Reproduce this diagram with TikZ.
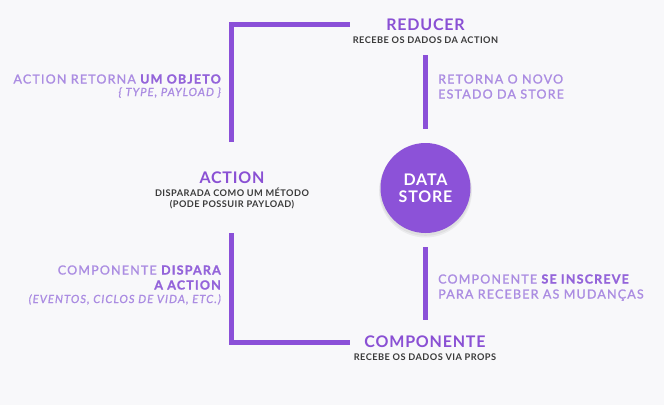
\documentclass[tikz,border=0pt]{standalone}
\usepackage{fontspec}
\setmainfont{Lato}
\newfontfamily\spaced{Lato}[LetterSpace=9.5, FakeBold=1.2]
\newfontfamily\headspaced{Lato}[LetterSpace=5]
\definecolor{barc}{HTML}{8B50D8}
\definecolor{headc}{HTML}{8A50D4}
\definecolor{notec}{HTML}{AB8CE2}
\definecolor{noted}{HTML}{9464DA}
\definecolor{subc}{HTML}{3A3A3A}
\definecolor{bgc}{HTML}{F8F8FA}
\definecolor{storec}{HTML}{8C52D8}
\tikzset{
  bar/.style={line width=5pt, draw=barc, line cap=butt},
  head/.style={inner sep=0pt, anchor=base, text=headc, font=\headspaced\bfseries\fontsize{16}{18}\selectfont},
  subtxt/.style={inner sep=0pt, anchor=base, text=subc, font=\headspaced\bfseries\fontsize{9.2}{11}\selectfont},
  notetxt/.style={inner sep=0pt, text=notec, font=\spaced\fontsize{12.5}{15}\selectfont},
  noteit/.style={inner sep=0pt, text=notec, font=\spaced\itshape\fontsize{11.2}{13}\selectfont},
  storenode/.style={circle, fill=storec, minimum size=90pt, inner sep=0pt},
  storeshadow/.style={fill=black, opacity=0.05},
  storetxt/.style={inner sep=0pt, anchor=base, text=white, font=\headspaced\bfseries\fontsize{16}{18}\selectfont},
}
\newcommand{\dk}[1]{\textcolor{noted}{\bfseries #1}}
\begin{document}
\begin{tikzpicture}[x=1pt,y=-1pt]
\fill[bgc] (0,0) rectangle (664,405);
\useasboundingbox (0,0) rectangle (664,405);

% headings
\node[head] (reducer) at (425.5,30) {REDUCER};
\node[subtxt] (reducersub) at (425.5,43.2) {RECEBE OS DADOS DA ACTION};
\node[head] (action) at (232,183) {ACTION};
\node[subtxt] (actionsub1) at (232,196.5) {DISPARADA COMO UM MÉTODO};
\node[subtxt] (actionsub2) at (232,207.5) {(PODE POSSUIR PAYLOAD)};
\node[head] (component) at (425,347) {COMPONENTE};
\node[subtxt] (componentsub) at (425,360.5) {RECEBE OS DADOS VIA PROPS};

% data store with soft shadow
\fill[storeshadow] (425.5,191) circle (46.5);
\fill[storeshadow] (425.5,190) circle (45.8);
\node[storenode] (store) at (425.5,188) {};
\node[storetxt] (storeA) at (425.5,185) {DATA};
\node[storetxt] (storeB) at (425.5,202) {STORE};

% bars
\coordinate (abTop) at (231.5,142);
\coordinate (rdLeft) at (350,24.5);
\coordinate (abBot) at (231.5,233);
\coordinate (cpLeft) at (350,342.5);
\coordinate (r1) at (425.5,55);
\coordinate (r2) at (425.5,129);
\coordinate (r3) at (425.5,247);
\coordinate (r4) at (425.5,320);
\draw[bar] (abTop) |- (rdLeft);
\draw[bar] (abBot) |- (cpLeft);
\draw[bar] (r1) -- (r2);
\draw[bar] (r3) -- (r4);

% left notes
\node[notetxt, anchor=base east] (tl1) at (221,83.5) {ACTION RETORNA \dk{UM OBJETO}};
\node[noteit, anchor=base east] (tl2) at (221,96) {\{ TYPE, PAYLOAD \}};
\node[notetxt, anchor=base east] (bl1) at (221,274.5) {COMPONENTE \dk{DISPARA}};
\node[notetxt, anchor=base east] (bl2) at (221,289.5) {\dk{A ACTION}};
\node[noteit, anchor=base east] (bl3) at (221,303) {(EVENTOS, CICLOS DE VIDA, ETC.)};

% right notes
\node[notetxt, anchor=base west] (tr1) at (438,83.5) {RETORNA O NOVO};
\node[notetxt, anchor=base west] (tr2) at (438,98.5) {ESTADO DA STORE};
\node[notetxt, anchor=base west] (br1) at (438,283.5) {COMPONENTE \dk{SE INSCREVE}};
\node[notetxt, anchor=base west] (br2) at (438,298.5) {PARA RECEBER AS MUDANÇAS};
\end{tikzpicture}
\end{document}
